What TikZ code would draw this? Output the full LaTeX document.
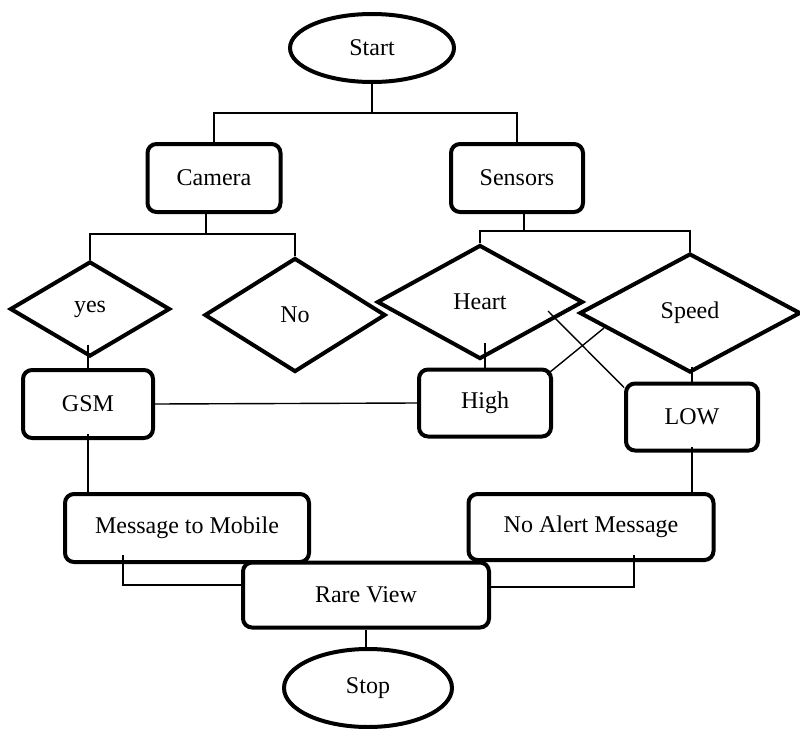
\documentclass[tikz,border=0pt]{standalone}
\usepackage{fontspec}
\setmainfont{Liberation Serif}
\usetikzlibrary{shapes.geometric,calc}
\begin{document}
\begin{tikzpicture}[x=1pt,y=-1pt,
  every node/.style={font=\fontsize{24}{28}\selectfont},
  term/.style={ellipse,draw,line width=4pt,fill=white,inner sep=0pt},
  proc/.style={rectangle,draw,line width=4pt,rounded corners=9pt,fill=white,inner sep=0pt},
  deci/.style={diamond,draw,line width=4pt,fill=white,inner sep=0pt},
  conn/.style={line width=1.4pt}]
\useasboundingbox (0,0) rectangle (800,728);
% nodes
\node[term,minimum width=164pt,minimum height=68pt] (start) at (372,48) {Start};
\node[proc,minimum width=133pt,minimum height=68pt] (camera) at (214,178) {Camera};
\node[proc,minimum width=132pt,minimum height=68pt] (sensors) at (517,178) {Sensors};
\node[deci,minimum width=160pt,minimum height=95pt,aspect=1.68] (yes) at (90,309) {yes};
\node[deci,minimum width=181pt,minimum height=114pt,aspect=1.59] (no) at (295,315) {No};
\node[deci,minimum width=206pt,minimum height=114pt,aspect=1.8] (heart) at (480,302) {Heart};
\node[deci,minimum width=221pt,minimum height=119pt,aspect=1.86] (speed) at (690,313) {Speed};
\node[proc,minimum width=130pt,minimum height=68pt] (gsm) at (88,404) {GSM};
\node[proc,minimum width=132pt,minimum height=67pt] (high) at (485,403) {High};
\node[proc,minimum width=132pt,minimum height=67pt] (low) at (692,417) {LOW};
\node[proc,minimum width=244pt,minimum height=68pt] (mtm) at (187,528) {Message to Mobile};
\node[proc,minimum width=245pt,minimum height=66pt] (nam) at (591,527) {No Alert Message};
\node[proc,minimum width=246pt,minimum height=65pt] (rare) at (366,595) {Rare View};
\node[term,minimum width=168pt,minimum height=78pt] (stop) at (368,688) {Stop};
% junction coordinates
\coordinate (j1) at (372,113);
\coordinate (j2) at (206,234);
\coordinate (j3) at (524,231);
\coordinate (hx) at (548,311);
\coordinate (sx) at (604,328);
\coordinate (m1) at (123,555);
\coordinate (n1) at (634,555);
\coordinate (yb) at ($(yes.south)+(0,-14)$);
\coordinate (hb) at ($(heart.south)+(0,-18)$);
\coordinate (sb) at ($(speed.south)+(0,-8)$);
% connectors
\draw[conn] (start) -- (j1);
\draw[conn] (camera.north) |- (j1) -| (sensors.north);
\draw[conn] (j2 |- camera.south) -- (j2);
\draw[conn] (yes.north) |- (j2) -| (no.north);
\draw[conn] (j3 |- sensors.south) -- (j3);
\draw[conn] (heart.north) |- (j3) -| (speed.north);
\draw[conn] (yb -| gsm.north) -- (gsm.north);
\draw[conn] (hb -| high.north) -- (high.north);
\draw[conn] (sb -| low.north) -- (low.north);
\draw[conn] (gsm.east) -- (high.west);
\draw[conn] (hx) -- ([yshift=-6pt]low.north west);
\draw[conn] (sx) -- ([xshift=-6pt,yshift=-7pt]high.north east);
\draw[conn] ([yshift=6pt]gsm.south) -- (gsm.south |- mtm.north);
\draw[conn] ([yshift=6pt]low.south) -- (low.south |- nam.north);
\draw[conn] (m1) |- ([yshift=10pt]rare.west);
\draw[conn] (n1) |- ([yshift=8pt]rare.east);
\draw[conn] (rare.south) -- (rare.south |- stop.north);
\end{tikzpicture}
\end{document}
